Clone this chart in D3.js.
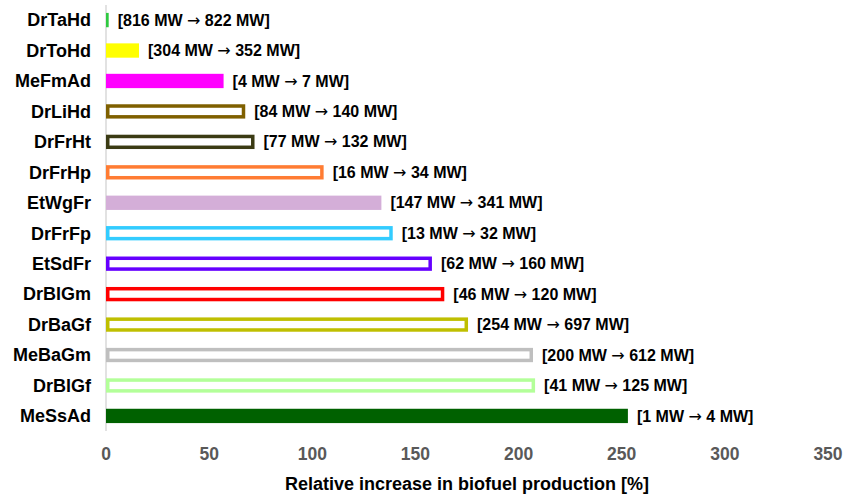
<!DOCTYPE html>
<html>
<head>
<meta charset="utf-8">
<script src="https://cdn.jsdelivr.net/npm/d3@7"></script>
<style>
  body { margin: 0; background: #fff; }
  text { font-family: "Liberation Sans", Arial, sans-serif; font-weight: bold; }
  .arrow { font-family: "DejaVu Sans", sans-serif; font-weight: normal; }
</style>
</head>
<body>
<svg width="848" height="494"></svg>
<script>
const svg = d3.select("svg");

// data
const categories = ["DrTaHd", "DrToHd", "MeFmAd", "DrLiHd", "DrFrHt", "DrFrHp", "EtWgFr",
  "DrFrFp", "EtSdFr", "DrBlGm", "DrBaGf", "MeBaGm", "DrBlGf", "MeSsAd"];
const increase = [1.3, 16, 57, 67.5, 72, 105.5, 133.5, 139, 158, 164, 175.5, 207, 208, 253];
const fromMW = [816, 304, 4, 84, 77, 16, 147, 13, 62, 46, 254, 200, 41, 1];
const toMW = [822, 352, 7, 140, 132, 34, 341, 32, 160, 120, 697, 612, 125, 4];
const colors = ["#2ec940", "#ffff00", "#ff00ff", "#7f6000", "#3b3b14", "#ff7c33", "#d4aed8",
  "#33ccff", "#6600ff", "#ff0000", "#bfbf00", "#bfbfbf", "#b3ff99", "#006100"];
const filled = [true, true, true, false, false, false, true,
  false, false, false, false, false, false, true];
const xTicks = [0, 50, 100, 150, 200, 250, 300, 350];

const x = d3.scaleLinear().domain([0, 350]).range([106, 828]);
const y = d3.scaleBand().domain(categories).range([5, 431]).paddingInner(0.53).paddingOuter(0.26);

// vertical axis line
svg.append("line")
  .attr("x1", x(0)).attr("x2", x(0))
  .attr("y1", 5).attr("y2", 431)
  .attr("stroke", "#d9d9d9").attr("stroke-width", 1.5);

const rows = svg.selectAll(".row")
  .data(categories)
  .enter()
  .append("g")
  .attr("class", "row");

rows.append("rect")
  .attr("x", (d, i) => filled[i] ? x(0) : x(0) + 1.75)
  .attr("y", (d, i) => filled[i] ? y(d) : y(d) + 1.75)
  .attr("width", (d, i) => filled[i] ? x(increase[i]) - x(0) : x(increase[i]) - x(0) - 3.5)
  .attr("height", (d, i) => filled[i] ? y.bandwidth() : y.bandwidth() - 3.5)
  .attr("fill", (d, i) => filled[i] ? colors[i] : "#fff")
  .attr("stroke", (d, i) => filled[i] ? "none" : colors[i])
  .attr("stroke-width", 3.5);

const vlab = rows.append("text")
  .attr("x", (d, i) => x(increase[i]) + 9)
  .attr("y", d => y(d) + y.bandwidth() / 2)
  .attr("dy", "0.35em")
  .attr("font-size", 16)
  .attr("fill", "#000");
vlab.append("tspan").text((d, i) => `[${fromMW[i]} MW `);
vlab.append("tspan").attr("class", "arrow").text("\u2192");
vlab.append("tspan").text((d, i) => ` ${toMW[i]} MW]`);

rows.append("text")
  .attr("x", 91)
  .attr("y", d => y(d) + y.bandwidth() / 2)
  .attr("dy", "0.35em")
  .attr("text-anchor", "end")
  .attr("font-size", 18)
  .attr("fill", "#000")
  .text(d => d);

// x tick labels
svg.selectAll(".tick")
  .data(xTicks)
  .enter()
  .append("text")
  .attr("class", "tick")
  .attr("x", d => x(d))
  .attr("y", 460)
  .attr("text-anchor", "middle")
  .attr("font-size", 17.5)
  .attr("fill", "#595959")
  .text(d => d);

svg.append("text")
  .attr("x", 467)
  .attr("y", 490)
  .attr("text-anchor", "middle")
  .attr("font-size", 18)
  .attr("fill", "#000")
  .text("Relative increase in biofuel production [%]");
</script>
</body>
</html>
